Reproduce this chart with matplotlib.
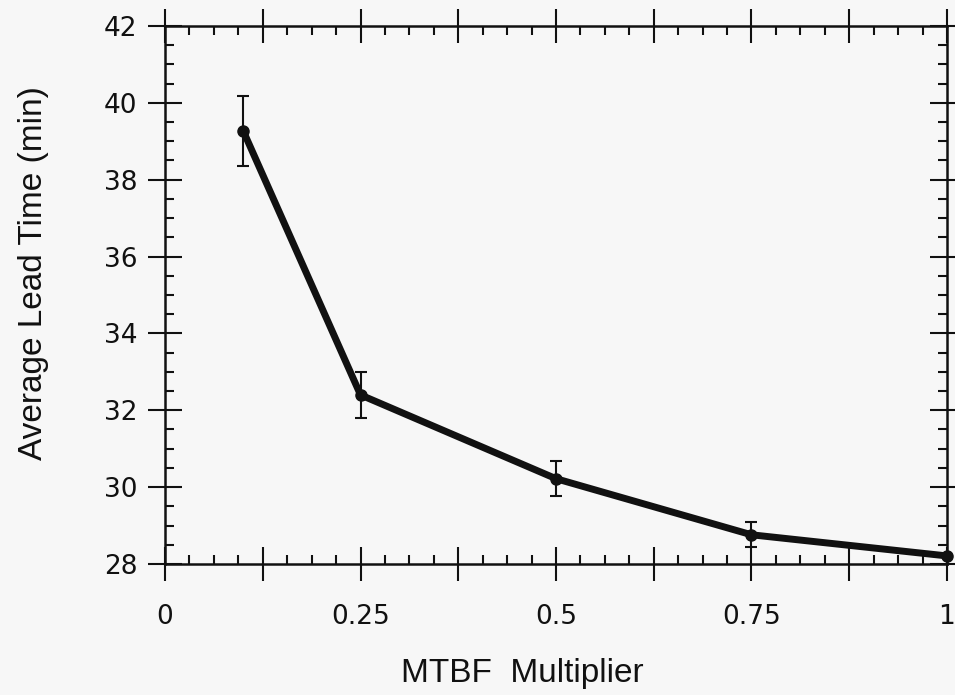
import matplotlib
matplotlib.use("Agg")
import matplotlib.pyplot as plt
from matplotlib.ticker import MultipleLocator, FixedLocator, FixedFormatter

# values
mtbf_mult = [0.1, 0.25, 0.5, 0.75, 1.0]
lead_time = [39.27, 32.40, 30.22, 28.76, 28.21]
lead_err = [0.91, 0.60, 0.46, 0.33, 0.0]

x_ticks = [0, 0.125, 0.25, 0.375, 0.5, 0.625, 0.75, 0.875, 1.0]
x_ticklabels = ["0", "", "0.25", "", "0.5", "", "0.75", "", "1"]
y_ticks = [28, 30, 32, 34, 36, 38, 40, 42]

BG = "#f7f7f7"
INK = "#111111"
TICK_FONT = ["DejaVu Sans"]
LABEL_FONT = ["Liberation Sans", "DejaVu Sans"]

fig = plt.figure(figsize=(9.55, 6.95), dpi=100, facecolor=BG)
ax = fig.add_axes([0.1728, 0.1885, 0.8188, 0.7741], facecolor=BG)

ax.errorbar(mtbf_mult, lead_time, yerr=lead_err, fmt="none", ecolor=INK,
            elinewidth=1.5, capsize=4.5, capthick=1.5, zorder=2, clip_on=False)
ax.plot(mtbf_mult, lead_time, color=INK, linewidth=5, marker="o",
        markersize=8, solid_joinstyle="round", zorder=3, clip_on=False)

ax.set_xlim(0, 1)
ax.set_ylim(28, 42)

ax.xaxis.set_major_locator(FixedLocator(x_ticks))
ax.xaxis.set_major_formatter(FixedFormatter(x_ticklabels))
ax.xaxis.set_minor_locator(MultipleLocator(0.03125))
ax.yaxis.set_major_locator(FixedLocator(y_ticks))
ax.yaxis.set_minor_locator(MultipleLocator(0.5))

ax.tick_params(which="major", direction="inout", length=24, width=1.5,
               color=INK, top=True, right=True)
ax.tick_params(which="minor", direction="in", length=6.5, width=1.5,
               color=INK, top=True, right=True)
ax.tick_params(axis="x", which="major", pad=17)
ax.tick_params(axis="y", which="major", pad=8)

for lab in ax.get_xticklabels() + ax.get_yticklabels():
    lab.set_fontfamily(TICK_FONT)
    lab.set_fontsize(19)
    lab.set_color(INK)

for sp in ax.spines.values():
    sp.set_linewidth(1.8)
    sp.set_color(INK)

ax.set_xlabel("MTBF  Multiplier", family=LABEL_FONT, fontsize=24, color=INK)
ax.set_ylabel("Average Lead Time (min)", family=LABEL_FONT, fontsize=24, color=INK)
ax.xaxis.set_label_coords(0.4565, -0.175)
ax.yaxis.set_label_coords(-0.148, 0.541)

fig.savefig("out.png", dpi=100, facecolor=BG)
